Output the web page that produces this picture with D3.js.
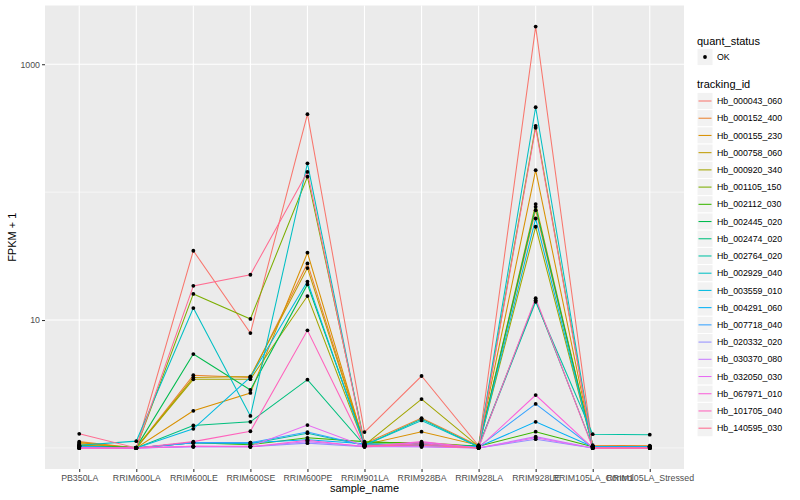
<!DOCTYPE html>
<html>
<head>
<meta charset="utf-8">
<script src="https://cdn.jsdelivr.net/npm/d3@7"></script>
<style>
  body { margin: 0; background: #fff; }
  svg { font-family: "Liberation Sans", Arial, sans-serif; }
</style>
</head>
<body>
<div id="chart"></div>
<script>
// ---- Data (FPKM) -----------------------------------------------------------
const samples = ["PB350LA", "RRIM600LA", "RRIM600LE", "RRIM600SE", "RRIM600PE",
  "RRIM901LA", "RRIM928BA", "RRIM928LA", "RRIM928LE", "RRIM105LA_Control", "RRIM105LA_Stressed"];

const trackingIds = ["Hb_000043_060", "Hb_000152_400", "Hb_000155_230", "Hb_000758_060",
  "Hb_000920_340", "Hb_001105_150", "Hb_002112_030", "Hb_002445_020", "Hb_002474_020",
  "Hb_002764_020", "Hb_002929_040", "Hb_003559_010", "Hb_004291_060", "Hb_007718_040",
  "Hb_020332_020", "Hb_030370_080", "Hb_032050_030", "Hb_067971_010", "Hb_101705_040",
  "Hb_140595_030"];

// one row per tracking id, one value per sample
const fpkm = [
  [0.06, 0, 33.8, 6.9, 406, 0.33, 2.65, 0.04, 1969, 0, 0],
  [0.12, 0, 2.7, 2.55, 26.7, 0.08, 0.71, 0.04, 71.3, 0.05, 0.04],
  [0.1, 0, 0.95, 1.69, 32.6, 0.06, 0.34, 0.05, 147.5, 0.03, 0.03],
  [0.08, 0, 2.55, 2.62, 24.5, 0.06, 0.06, 0.03, 79.6, 0.03, 0.02],
  [0.05, 0, 2.44, 2.45, 14.4, 0.05, 1.41, 0.03, 52.6, 0.02, 0.02],
  [0.04, 0, 15.0, 9.2, 131, 0.1, 0.1, 0.03, 329, 0.02, 0.02],
  [0.03, 0, 0.1, 0.06, 0.2, 0.12, 0.08, 0.03, 0.34, 0.02, 0.02],
  [0.03, 0.01, 4.42, 1.84, 18.0, 0.08, 0.06, 0.03, 75.7, 0.02, 0.02],
  [0.02, 0, 0.5, 0.6, 2.42, 0.05, 0.05, 0.03, 13.3, 0.02, 0.02],
  [0.02, 0, 0.1, 0.08, 0.3, 0.05, 0.68, 0.02, 12.9, 0.28, 0.27],
  [0.05, 0.13, 11.4, 0.78, 167, 0.05, 0.64, 0.02, 460, 0.02, 0.02],
  [0.02, 0, 0.41, 2.58, 19.0, 0.05, 0.06, 0.02, 61.2, 0.02, 0.02],
  [0.02, 0, 0.1, 0.1, 0.16, 0.08, 0.04, 0.02, 0.6, 0.02, 0.01],
  [0.02, 0, 0.1, 0.1, 0.33, 0.05, 0.05, 0.02, 1.21, 0.01, 0.01],
  [0, 0, 0.02, 0.02, 0.09, 0.02, 0.02, 0, 0.17, 0, 0],
  [0, 0, 0.02, 0.02, 0.12, 0.03, 0.1, 0, 0.225, 0, 0],
  [0, 0, 0.03, 0.03, 0.51, 0.03, 0.02, 0, 0.2, 0, 0],
  [0, 0, 0.03, 0.02, 0.15, 0.02, 0.12, 0, 1.59, 0, 0],
  [0, 0, 0.12, 0.35, 7.31, 0.02, 0.08, 0, 13.8, 0, 0],
  [0.29, 0, 17.5, 21.6, 143, 0.05, 0.05, 0, 317, 0, 0]
];

const yBreaks = [10, 1000];
const yMinorBreaks = [1, 100];

// ggplot2 default hue palette for 20 levels
const palette = ["#F8766D", "#EA8331", "#D89000", "#C09B00", "#A3A500", "#7CAE00", "#39B600",
  "#00BB4E", "#00BF7D", "#00C1A3", "#00BFC4", "#00BAE0", "#00B0F6", "#35A2FF", "#9590FF",
  "#C77CFF", "#E76BF3", "#FA62DB", "#FF62BC", "#FF6C91"];

// ---- Layout -----------------------------------------------------------------
const width = 800, height = 500;
const panel = { left: 45, right: 684, top: 5.5, bottom: 469 };

const svg = d3.select("#chart").append("svg")
  .attr("width", width).attr("height", height);

const x = d3.scalePoint()
  .domain(samples)
  .range([panel.left, panel.right])
  .padding(0.6);

// y is log10(FPKM + 1), with ggplot's 5% expansion
const series = trackingIds.map((id, i) => ({
  id, colour: palette[i],
  values: fpkm[i].map((v, j) => ({ sample: samples[j], v: v + 1 }))
}));
const logExt = d3.extent(series.flatMap(s => s.values), d => Math.log10(d.v));
const pad = (logExt[1] - logExt[0]) * 0.05;
const y = d3.scaleLog()
  .domain([Math.pow(10, logExt[0] - pad), Math.pow(10, logExt[1] + pad)])
  .range([panel.bottom, panel.top]);

// panel background
svg.append("rect")
  .attr("x", panel.left).attr("y", panel.top)
  .attr("width", panel.right - panel.left).attr("height", panel.bottom - panel.top)
  .attr("fill", "#EBEBEB");

// grid
const grid = svg.append("g").attr("stroke", "#fff").attr("fill", "none");
grid.selectAll("line.minor").data(yMinorBreaks).join("line")
  .attr("x1", panel.left).attr("x2", panel.right)
  .attr("y1", d => y(d)).attr("y2", d => y(d))
  .attr("stroke-width", 0.55);
grid.selectAll("line.major").data(yBreaks).join("line")
  .attr("x1", panel.left).attr("x2", panel.right)
  .attr("y1", d => y(d)).attr("y2", d => y(d))
  .attr("stroke-width", 1.1);
grid.selectAll("line.vx").data(samples).join("line")
  .attr("x1", d => x(d)).attr("x2", d => x(d))
  .attr("y1", panel.top).attr("y2", panel.bottom)
  .attr("stroke-width", 1.1);

// lines
const line = d3.line().x(d => x(d.sample)).y(d => y(d.v));
svg.append("g").selectAll("path").data(series).join("path")
  .attr("d", d => line(d.values))
  .attr("fill", "none")
  .attr("stroke", d => d.colour)
  .attr("stroke-width", 1.05);

// points (quant_status OK)
svg.append("g").selectAll("circle").data(series.flatMap(s => s.values)).join("circle")
  .attr("cx", d => x(d.sample)).attr("cy", d => y(d.v))
  .attr("r", 1.9).attr("fill", "#000");

// axes
const xAxis = svg.append("g")
  .attr("transform", `translate(0,${panel.bottom})`)
  .call(d3.axisBottom(x).tickSize(3).tickSizeOuter(0));
const yAxis = svg.append("g")
  .attr("transform", `translate(${panel.left},0)`)
  .call(d3.axisLeft(y).tickValues(yBreaks).tickFormat(d3.format("d")).tickSize(3).tickSizeOuter(0));
[xAxis, yAxis].forEach(g => {
  g.select(".domain").remove();
  g.selectAll(".tick line").attr("stroke", "#333333").attr("stroke-width", 1.05);
  g.selectAll(".tick text").attr("fill", "#4D4D4D").attr("font-size", 8.8)
    .attr("font-family", "Liberation Sans, Arial, sans-serif");
});
xAxis.selectAll(".tick text").attr("dy", "0.75em").attr("y", 5);
yAxis.selectAll(".tick text").attr("x", -5);

svg.append("text")
  .attr("x", (panel.left + panel.right) / 2).attr("y", 492)
  .attr("text-anchor", "middle").attr("font-size", 11).attr("fill", "#000")
  .text("sample_name");
svg.append("text")
  .attr("transform", `translate(16,${(panel.top + panel.bottom) / 2}) rotate(-90)`)
  .attr("text-anchor", "middle").attr("font-size", 11).attr("fill", "#000")
  .text("FPKM + 1");

// ---- Legends ------------------------------------------------------------------
const legend = svg.append("g").attr("transform", "translate(697,0)");
const keyH = 17.22, keyW = 16;

legend.append("text").attr("x", 0).attr("y", 44.5).attr("font-size", 11).text("quant_status");
legend.append("rect").attr("x", 0).attr("y", 57 - keyH / 2).attr("width", keyW).attr("height", keyH)
  .attr("fill", "#F2F2F2").attr("stroke", "#fff");
legend.append("circle").attr("cx", keyW / 2).attr("cy", 57).attr("r", 1.9).attr("fill", "#000");
legend.append("text").attr("x", 20).attr("y", 60).attr("font-size", 8.8).text("OK");

legend.append("text").attr("x", 0).attr("y", 88).attr("font-size", 11).text("tracking_id");
const keys = legend.selectAll("g.key").data(series).join("g")
  .attr("transform", (d, i) => `translate(0,${101 + i * keyH})`);
keys.append("rect").attr("x", 0).attr("y", -keyH / 2).attr("width", keyW).attr("height", keyH)
  .attr("fill", "#F2F2F2").attr("stroke", "#fff");
keys.append("line").attr("x1", 1.5).attr("x2", keyW - 1.5)
  .attr("stroke", d => d.colour).attr("stroke-width", 1.05);
keys.append("text").attr("x", 20).attr("y", 3.1).attr("font-size", 8.8).text(d => d.id);
</script>
</body>
</html>
